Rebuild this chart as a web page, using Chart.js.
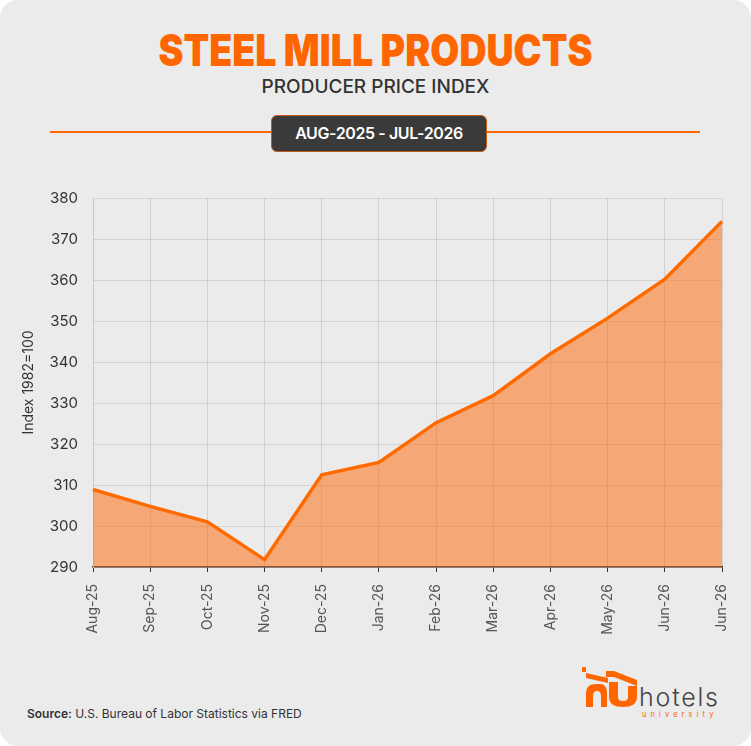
<!DOCTYPE html>
<html>
<head>
<meta charset="utf-8">
<script src="https://cdn.jsdelivr.net/npm/chart.js@4.4.1/dist/chart.umd.min.js"></script>
<style>
  html, body { margin: 0; padding: 0; background: #ffffff; }
  .card {
    position: relative; width: 751px; height: 746px;
    background: #ebebeb; border-radius: 18px; overflow: hidden;
    font-family: Inter, "Noto Sans", sans-serif;
  }
  .title {
    position: absolute; left: 0; width: 751px; top: 23px; text-align: center;
    font-weight: 900; font-size: 44px; color: #ff6600; line-height: 54px; white-space: nowrap;
  }
  .title span { display: inline-block; transform-origin: center; }
  .subtitle {
    position: absolute; left: 0; width: 751px; top: 75px; text-align: center;
    font-weight: 500; font-size: 19px; color: #333; line-height: 24px;
  }
  .rule { position: absolute; left: 50px; width: 650px; top: 131px; height: 1.5px; background: #ff6a00; }
  .pill {
    position: absolute; left: 271px; top: 115px; width: 214px; height: 35px;
    background: #3a3a3a; border: 1px solid #c25a1a; border-radius: 6px;
    color: #fff; font-weight: 600; font-size: 16px; letter-spacing: -0.4px; line-height: 35px; text-align: center;
  }
  .chartbox { position: absolute; left: 0; top: 174px; width: 751px; height: 472px; }
  .chartbox canvas { display: block; }
  .source { position: absolute; left: 27px; top: 706px; font-size: 12px; color: #333; }
  .source b { font-weight: 600; }
  .logo { position: absolute; left: 570px; top: 660px; width: 160px; height: 65px; }
  .logo svg { position: absolute; left: 0; top: 0; }
  .logo .hotels { position: absolute; left: 69px; top: 23px; font-size: 25px; color: #444; font-weight: 300; letter-spacing: 1.8px; line-height: 28px; }
  .logo .uni { position: absolute; left: 72px; top: 50px; font-size: 7.5px; color: #ff6600; letter-spacing: 4.1px; line-height: 9px; }
</style>
</head>
<body>
<div class="card">
  <div class="title"><span id="ttl">STEEL MILL PRODUCTS</span></div>
  <div class="subtitle">PRODUCER PRICE INDEX</div>
  <div class="rule"></div>
  <div class="pill">AUG-2025 - JUL-2026</div>
  <div class="chartbox"><canvas id="ppi-chart"></canvas></div>
  <div class="source"><b>Source:</b> U.S. Bureau of Labor Statistics via FRED</div>
  <div class="logo">
    <svg width="80" height="65" viewBox="0 0 80 65">
      <g fill="#ff6600">
        <polygon points="12,7 16,7 16,12 12,12"/>
        <polygon points="16,13 38,18 38,23 16,18"/>
        <polygon points="36,11 44,11 67,20 67,26 44,17 36,17"/>
        <path d="M16,47 L16,33 Q16,24 26,24 L30,24 Q37,24 37,33 L37,47 L31,47 L31,36 Q31,31 27,31 Q23,31 23,36 L23,47 Z"/>
        <path d="M39,22 L48,22 L48,37 Q48,41 53,41 Q58,41 58,37 L58,26 L67,26 L67,37 Q67,47 53,47 Q39,47 39,37 Z"/>
      </g>
    </svg>
    <div class="hotels">hotels</div>
    <div class="uni">university</div>
  </div>
</div>
<script>
// fit the heavy title to the reference width
const ttl = document.getElementById('ttl');
ttl.style.transform = 'scaleX(' + (434 / ttl.getBoundingClientRect().width) + ')';

const months = ['Aug-25', 'Sep-25', 'Oct-25', 'Nov-25', 'Dec-25', 'Jan-26', 'Feb-26', 'Mar-26', 'Apr-26', 'May-26', 'Jun-26', 'Jun-26'];
const ppiValues = [308.9, 304.8, 301.0, 291.8, 312.5, 315.5, 325.2, 331.8, 342.0, 350.7, 360.2, 374.3];
const yTicks = [290, 300, 310, 320, 330, 340, 350, 360, 370, 380];

const ppiChart = new Chart(document.getElementById('ppi-chart'), {
  type: 'line',
  data: {
    labels: months,
    datasets: [{
      label: 'PPI',
      data: ppiValues,
      borderColor: '#ff6a00',
      backgroundColor: 'rgba(255, 108, 10, 0.52)',
      borderWidth: 3.5,
      fill: 'start',
      pointRadius: 0,
      tension: 0
    }]
  },
  options: {
    responsive: true,
    maintainAspectRatio: false,
    animation: false,
    layout: { padding: { top: 0, right: 29, left: 0, bottom: 0 } },
    plugins: { legend: { display: false }, tooltip: { enabled: false } },
    scales: {
      x: {
        grid: { color: 'rgba(0,0,0,0.11)', tickColor: '#333', tickLength: 5, drawOnChartArea: true },
        border: { color: '#333', width: 1.5 },
        ticks: { color: '#555', font: { size: 14, family: 'Inter' }, maxRotation: 90, minRotation: 90, padding: 12, autoSkip: false },
        afterFit: (s) => { s.height = 79; }
      },
      y: {
        min: 290,
        max: 380,
        afterBuildTicks: (s) => { s.ticks = yTicks.map(v => ({ value: v })); },
        grid: { color: 'rgba(0,0,0,0.1)', drawTicks: false },
        border: { color: '#c8c8c8', width: 1 },
        ticks: { color: '#333', font: { size: 15, family: 'Inter' }, padding: 15 },
        title: { display: true, text: 'Index 1982=100', color: '#333', font: { size: 14, family: 'Inter' }, padding: { top: 20, bottom: 0 } },
        afterFit: (s) => { s.width = 93; }
      }
    }
  }
});
</script>
</body>
</html>
